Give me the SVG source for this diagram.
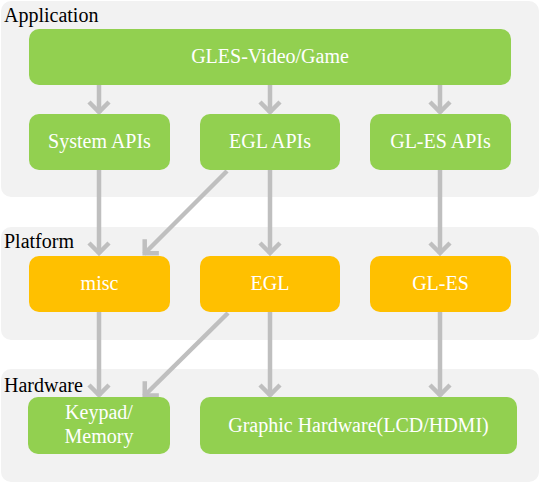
<svg xmlns="http://www.w3.org/2000/svg" width="540" height="483" viewBox="0 0 540 483">
<defs>
<marker id="ah" markerUnits="userSpaceOnUse" markerWidth="30" markerHeight="30" viewBox="-15 -15 30 30" refX="1" refY="0" orient="auto">
<path d="M-10,-10 L0,0 L-10,10" fill="none" stroke="#bfbfbf" stroke-width="4.5"/>
</marker>
</defs>
<rect width="540" height="483" fill="#ffffff"/>
<g id="panels" fill="#f2f2f2">
<g id="panel-application"><rect x="1" y="1" width="538" height="196" rx="10"/><text x="4" y="22" style="font-family:'Liberation Serif',serif;font-size:20px;fill:#000000">Application</text></g>
<g id="panel-platform"><rect x="1" y="227" width="538" height="113" rx="10"/><text x="4" y="248" style="font-family:'Liberation Serif',serif;font-size:20px;fill:#000000">Platform</text></g>
<g id="panel-hardware"><rect x="1" y="369" width="538" height="113" rx="10"/><text x="4" y="392" style="font-family:'Liberation Serif',serif;font-size:20px;fill:#000000">Hardware</text></g>
</g>
<g id="connectors" stroke="#bfbfbf" stroke-width="4.5" fill="none" marker-end="url(#ah)">
<line x1="99" y1="85" x2="99" y2="113"/>
<line x1="270" y1="85" x2="270" y2="113"/>
<line x1="440" y1="85" x2="440" y2="113"/>
<line x1="99" y1="170" x2="99" y2="254"/>
<line x1="227" y1="171" x2="144" y2="254"/>
<line x1="270" y1="170" x2="270" y2="254"/>
<line x1="440" y1="170" x2="440" y2="254"/>
<line x1="99" y1="312" x2="99" y2="396"/>
<line x1="228" y1="313" x2="144" y2="396"/>
<line x1="270" y1="312" x2="270" y2="396"/>
<line x1="440" y1="312" x2="440" y2="396"/>
</g>
<g id="node-gles-video-game"><rect fill="#92d050" x="29" y="29" width="482" height="56" rx="10"/><text x="270" y="63" text-anchor="middle" style="font-family:'Liberation Serif',serif;font-size:20px;fill:#ffffff">GLES-Video/Game</text></g>
<g id="node-system-apis"><rect fill="#92d050" x="29" y="114" width="141" height="56" rx="10"/><text x="99.5" y="148" text-anchor="middle" style="font-family:'Liberation Serif',serif;font-size:20px;fill:#ffffff">System APIs</text></g>
<g id="node-egl-apis"><rect fill="#92d050" x="200" y="114" width="140" height="56" rx="10"/><text x="270" y="148" text-anchor="middle" style="font-family:'Liberation Serif',serif;font-size:20px;fill:#ffffff">EGL APIs</text></g>
<g id="node-gl-es-apis"><rect fill="#92d050" x="370" y="114" width="141" height="56" rx="10"/><text x="440.5" y="148" text-anchor="middle" style="font-family:'Liberation Serif',serif;font-size:20px;fill:#ffffff">GL-ES APIs</text></g>
<g id="node-misc"><rect fill="#ffc000" x="29" y="256" width="141" height="56" rx="10"/><text x="99.5" y="290" text-anchor="middle" style="font-family:'Liberation Serif',serif;font-size:20px;fill:#ffffff">misc</text></g>
<g id="node-egl"><rect fill="#ffc000" x="200" y="256" width="140" height="56" rx="10"/><text x="270" y="290" text-anchor="middle" style="font-family:'Liberation Serif',serif;font-size:20px;fill:#ffffff">EGL</text></g>
<g id="node-gl-es"><rect fill="#ffc000" x="370" y="256" width="141" height="56" rx="10"/><text x="440.5" y="290" text-anchor="middle" style="font-family:'Liberation Serif',serif;font-size:20px;fill:#ffffff">GL-ES</text></g>
<g id="node-keypad-memory"><rect fill="#92d050" x="28" y="397" width="142" height="57" rx="10"/><text x="99" y="419" text-anchor="middle" style="font-family:'Liberation Serif',serif;font-size:20px;fill:#ffffff">Keypad/</text><text x="99" y="443" text-anchor="middle" style="font-family:'Liberation Serif',serif;font-size:20px;fill:#ffffff">Memory</text></g>
<g id="node-graphic-hardware"><rect fill="#92d050" x="200" y="397" width="317" height="57" rx="10"/><text x="358.5" y="432" text-anchor="middle" style="font-family:'Liberation Serif',serif;font-size:20px;fill:#ffffff">Graphic Hardware(LCD/HDMI)</text></g>
</svg>
